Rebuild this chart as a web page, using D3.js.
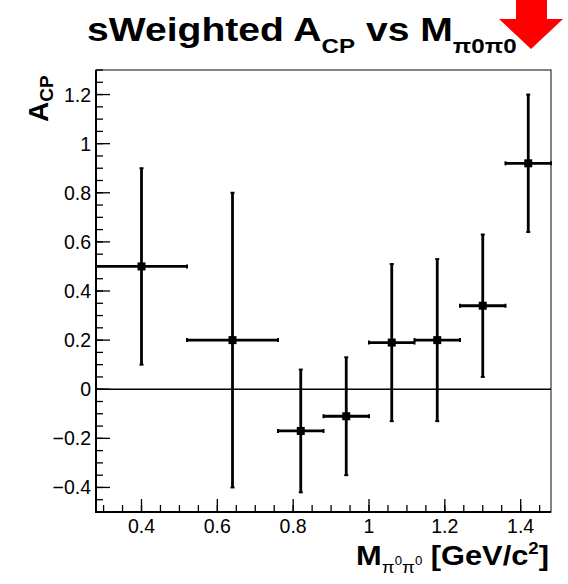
<!DOCTYPE html>
<html>
<head>
<meta charset="utf-8">
<script src="https://cdn.jsdelivr.net/npm/d3@7"></script>
<style>
  body { margin: 0; background: #fff; }
  svg { display: block; font-family: "Liberation Sans", Arial, sans-serif; }
</style>
</head>
<body>
<svg id="chart" width="568" height="584"></svg>
<script>
// bins of M(pi0 pi0) in GeV/c^2
const binLow  = [0.28, 0.52, 0.76, 0.88, 1.00, 1.12, 1.24, 1.36];
const binHigh = [0.52, 0.76, 0.88, 1.00, 1.12, 1.24, 1.36, 1.48];
// sWeighted A_CP per bin and its error
const acp    = [0.50, 0.20, -0.17, -0.11, 0.19, 0.20, 0.34, 0.92];
const acpErr = [0.40, 0.60, 0.25, 0.24, 0.32, 0.33, 0.29, 0.28];
const xTicks = [0.4, 0.6, 0.8, 1.0, 1.2, 1.4];
const yTicks = [-0.4, -0.2, 0, 0.2, 0.4, 0.6, 0.8, 1.0, 1.2];

const size = { left: 96, right: 551, top: 70, bottom: 512 };
const svg = d3.select('#chart');

const x = d3.scaleLinear().domain([0.28, 1.48]).range([size.left, size.right]);
const y = d3.scaleLinear().domain([-0.5, 1.3]).range([size.bottom, size.top]);

const points = acp.map((v, i) => ({
    lo: binLow[i], hi: binHigh[i], mid: (binLow[i] + binHigh[i]) / 2, v: v, e: acpErr[i]
}));

// frame
svg.append('rect')
    .attr('x', size.left).attr('y', size.top)
    .attr('width', size.right - size.left).attr('height', size.bottom - size.top)
    .attr('fill', 'none').attr('stroke', '#333').attr('stroke-width', 1.2);

// y axis ticks
const yMinor = d3.range(-0.5, 1.3001, 0.05);
const gy = svg.append('g');
gy.selectAll('line.minor').data(yMinor).enter().append('line')
    .attr('x1', size.left).attr('x2', size.left + 7)
    .attr('y1', d => y(d)).attr('y2', d => y(d))
    .attr('stroke', '#000').attr('stroke-width', 1.3);
gy.selectAll('line.major').data(yTicks).enter().append('line')
    .attr('x1', size.left).attr('x2', size.left + 14)
    .attr('y1', d => y(d)).attr('y2', d => y(d))
    .attr('stroke', '#000').attr('stroke-width', 1.3);
gy.selectAll('text').data(yTicks).enter().append('text')
    .attr('x', size.left - 5).attr('y', d => y(d) + 7)
    .attr('text-anchor', 'end').attr('font-size', 19.5)
    .text(d => d === 0 ? '0' : (d === 1 ? '1' : d3.format('.1f')(d).replace('-', '\u2212')));

// x axis ticks
const xMinor = d3.range(0.30, 1.4801, 0.05);
const gx = svg.append('g');
gx.selectAll('line.minor').data(xMinor).enter().append('line')
    .attr('x1', d => x(d)).attr('x2', d => x(d))
    .attr('y1', size.bottom).attr('y2', size.bottom - 7)
    .attr('stroke', '#000').attr('stroke-width', 1.3);
gx.selectAll('line.major').data(xTicks).enter().append('line')
    .attr('x1', d => x(d)).attr('x2', d => x(d))
    .attr('y1', size.bottom).attr('y2', size.bottom - 13)
    .attr('stroke', '#000').attr('stroke-width', 1.3);
gx.selectAll('text').data(xTicks).enter().append('text')
    .attr('x', d => x(d)).attr('y', 533)
    .attr('text-anchor', 'middle').attr('font-size', 19.5)
    .text(d => d === 1 ? '1' : d3.format('.1f')(d));

// thick left and bottom axis lines
svg.append('line').attr('x1', size.left).attr('x2', size.left)
    .attr('y1', size.top).attr('y2', size.bottom + 1)
    .attr('stroke', '#000').attr('stroke-width', 2);
svg.append('line').attr('x1', size.left - 1).attr('x2', size.right)
    .attr('y1', size.bottom).attr('y2', size.bottom)
    .attr('stroke', '#000').attr('stroke-width', 2);

// zero line
svg.append('line').attr('x1', size.left).attr('x2', size.right)
    .attr('y1', y(0)).attr('y2', y(0))
    .attr('stroke', '#000').attr('stroke-width', 1.5);

// error bars and markers
const g = svg.append('g');
g.selectAll('line.h').data(points).enter().append('line')
    .attr('x1', d => x(d.lo)).attr('x2', d => x(d.hi))
    .attr('y1', d => y(d.v)).attr('y2', d => y(d.v))
    .attr('stroke', '#000').attr('stroke-width', 2.8);
g.selectAll('line.v').data(points).enter().append('line')
    .attr('x1', d => x(d.mid)).attr('x2', d => x(d.mid))
    .attr('y1', d => y(d.v - d.e)).attr('y2', d => y(d.v + d.e))
    .attr('stroke', '#000').attr('stroke-width', 2.8);
// small end caps
const caps = [];
points.forEach(d => {
    caps.push({ x1: x(d.mid) - 2, x2: x(d.mid) + 2, y1: y(d.v - d.e), y2: y(d.v - d.e) });
    caps.push({ x1: x(d.mid) - 2, x2: x(d.mid) + 2, y1: y(d.v + d.e), y2: y(d.v + d.e) });
    caps.push({ x1: x(d.lo), x2: x(d.lo), y1: y(d.v) - 2, y2: y(d.v) + 2 });
    caps.push({ x1: x(d.hi), x2: x(d.hi), y1: y(d.v) - 2, y2: y(d.v) + 2 });
});
g.selectAll('line.cap').data(caps).enter().append('line')
    .attr('x1', d => d.x1).attr('x2', d => d.x2)
    .attr('y1', d => d.y1).attr('y2', d => d.y2)
    .attr('stroke', '#000').attr('stroke-width', 2);
g.selectAll('rect').data(points).enter().append('rect')
    .attr('x', d => x(d.mid) - 4).attr('y', d => y(d.v) - 4)
    .attr('width', 8).attr('height', 8).attr('fill', '#000');

// title (glyphs are a bit wide in the original)
const title = svg.append('text')
    .attr('transform', 'translate(87,41) scale(1.15,1)')
    .attr('font-size', 34).attr('font-weight', 'bold');
title.append('tspan').text('sWeighted A');
title.append('tspan').attr('font-size', 21).attr('dy', 12).text('CP');
title.append('tspan').attr('dy', -12).text(' vs M');
title.append('tspan').attr('font-size', 21).attr('dy', 12).text('\u03c00\u03c00');

// red arrow
svg.append('path')
    .attr('d', 'M516,0 L547,0 L547,19 L563,19 L531,49 L499,19 L516,19 Z')
    .attr('fill', '#ff0000');

// x axis title
const xt = svg.append('text')
    .attr('transform', 'translate(549,565) scale(1.1,1)')
    .attr('text-anchor', 'end')
    .attr('font-size', 28).attr('font-weight', 'bold');
xt.append('tspan').text('M');
xt.append('tspan').attr('font-size', 17).attr('font-weight', 'normal').attr('dy', 8).text('\u03c0');
xt.append('tspan').attr('font-size', 12).attr('font-weight', 'normal').attr('dy', -8).text('0');
xt.append('tspan').attr('font-size', 17).attr('font-weight', 'normal').attr('dy', 8).text('\u03c0');
xt.append('tspan').attr('font-size', 12).attr('font-weight', 'normal').attr('dy', -8).text('0');
xt.append('tspan').text(' [GeV/c');
xt.append('tspan').attr('font-size', 17).attr('dy', -11).text('2');
xt.append('tspan').attr('dy', 11).text(']');

// y axis title
const yt = svg.append('text')
    .attr('transform', 'translate(48,122) rotate(-90)')
    .attr('font-size', 28).attr('font-weight', 'bold');
yt.append('tspan').text('A');
yt.append('tspan').attr('font-size', 19).attr('dy', 5).text('CP');
</script>
</body>
</html>
